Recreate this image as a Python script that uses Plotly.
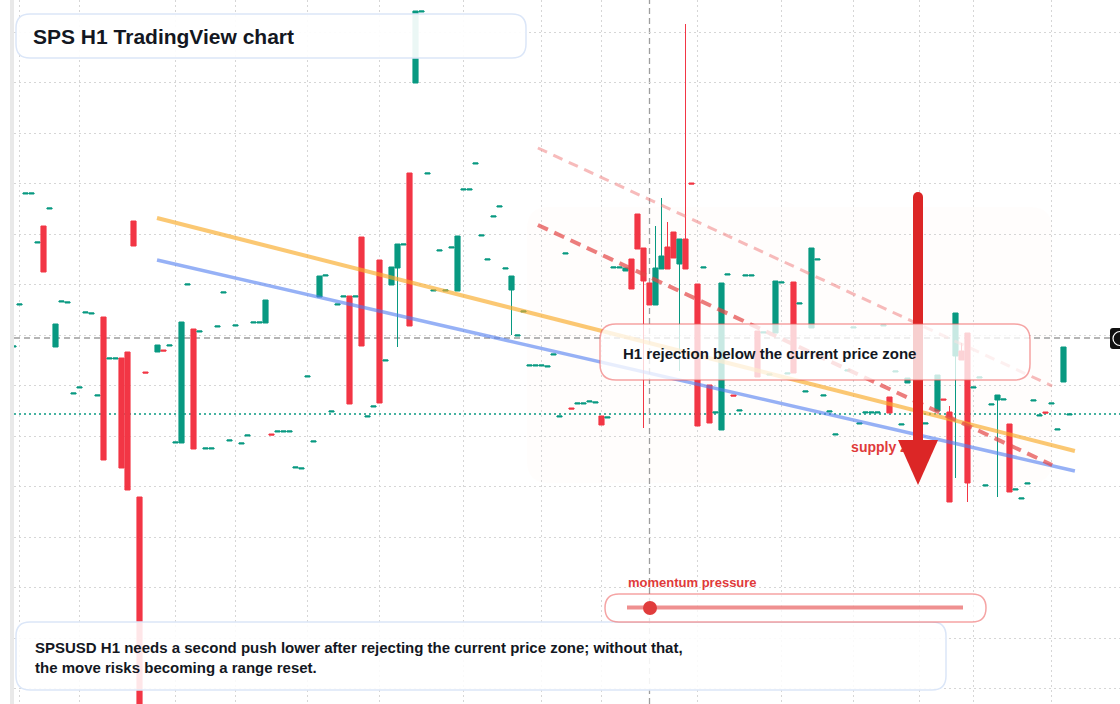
import plotly.graph_objects as go

# ---------------- data (H1 bars, price in USD) ----------------
bar_index = list(range(-1, 176))

open_ = [
    0.0857, 0.0899, 0.1010, 0.1010, 0.0961, 0.0978, 0.0995, 0.0857, 0.0902, 0.0901,
    0.0810, 0.0816, 0.0891, 0.0890, 0.0808, 0.0887, 0.0845, 0.0845, 0.0846, 0.0852,
    0.0983, 0.0707, 0.0832, None, 0.0852, 0.0854, 0.0858, 0.0761, 0.0761, 0.0919,
    0.0875, 0.0872, 0.0755, 0.0755, 0.0877, 0.0911, 0.0763, 0.0878, 0.0760, 0.0768,
    0.0881, 0.0881, 0.0881, 0.0770, 0.0772, 0.0772, 0.0772, 0.0736, 0.0735, 0.0827,
    0.0762, 0.0907, 0.0928, 0.0792, 0.0899, 0.0907, 0.0908, 0.0907, 0.0967, 0.0787,
    0.0797, 0.0944, 0.0843, 0.0919, 0.0936, 0.0959, 0.1031, 0.1121, 0.1192, 0.1030,
    0.0913, 0.0953, 0.0913, 0.0956, 0.0913, 0.1014, 0.1014, 0.1040, 0.0968, 0.0944,
    0.0987, 0.0997, 0.0935, 0.0914, 0.0868, 0.0892, 0.0838, 0.0838, 0.0838, 0.0837,
    0.0849, 0.0787, 0.0950, 0.0796, 0.0800, 0.0800, 0.0802, 0.0801, 0.0788, 0.0786,
    0.0936, 0.0936, 0.0933, 0.0945, 0.0990, 0.0956, 0.0921, 0.0899, 0.0935, 0.0957,
    0.0972, 0.0940, 0.0965, 0.1021, 0.0920, 0.0936, 0.0819, 0.0791, 0.0774, 0.0929,
    0.0809, 0.0793, 0.0928, 0.0928, 0.0873, 0.0871, 0.0829, 0.0871, 0.0921, 0.0830,
    0.0922, 0.0900, 0.0812, 0.0876, 0.0944, 0.0808, 0.0792, 0.0769, None, 0.0833,
    0.0876, 0.0780, 0.0791, 0.0791, 0.0791, 0.0878, 0.0807, 0.0832, 0.0779, 0.0821,
    None, None, 0.0780, None, 0.0793, 0.0805, 0.0792, 0.0848, 0.0853, 0.0871,
    0.0816, 0.0826, 0.0718, 0.0799, 0.0804, 0.0804, 0.0780, 0.0714, 0.0705, 0.0720,
    0.0803, 0.0788, 0.0792, 0.0800, 0.0774, 0.0822, 0.0789,
]

high = [
    0.0858, 0.0900, 0.1011, 0.1011, 0.0962, 0.0978, 0.0996, 0.0880, 0.0903, 0.0902,
    0.0811, 0.0817, 0.0892, 0.0891, 0.0809, 0.0887, 0.0846, 0.0846, 0.0846, 0.0852,
    0.0983, 0.0707, 0.0832, None, 0.0859, 0.0854, 0.0859, 0.0762, 0.0882, 0.0920,
    0.0875, 0.0873, 0.0756, 0.0756, 0.0878, 0.0912, 0.0764, 0.0879, 0.0761, 0.0769,
    0.0882, 0.0882, 0.0904, 0.0770, 0.0773, 0.0773, 0.0773, 0.0737, 0.0736, 0.0828,
    0.0763, 0.0928, 0.0929, 0.0793, 0.0900, 0.0908, 0.0908, 0.0908, 0.0967, 0.0788,
    0.0798, 0.0944, 0.0844, 0.0937, 0.0960, 0.0960, 0.1031, 0.1193, 0.1193, 0.1031,
    0.0914, 0.0954, 0.0914, 0.0957, 0.0968, 0.1015, 0.1015, 0.1041, 0.0969, 0.0945,
    0.0988, 0.0998, 0.0936, 0.0928, 0.0869, 0.0893, 0.0839, 0.0839, 0.0839, 0.0838,
    0.0850, 0.0788, 0.0951, 0.0796, 0.0801, 0.0801, 0.0803, 0.0802, 0.0788, 0.0787,
    0.0937, 0.0937, 0.0936, 0.0945, 0.0990, 0.0956, 0.0921, 0.0978, 0.1006, 0.0982,
    0.0972, 0.0965, 0.1180, 0.1021, 0.0920, 0.0937, 0.0819, 0.0792, 0.0921, 0.0930,
    0.0809, 0.0794, 0.0929, 0.0929, 0.0873, 0.0872, 0.0830, 0.0923, 0.0922, 0.0831,
    0.0922, 0.0901, 0.0813, 0.0956, 0.0945, 0.0809, 0.0793, 0.0770, None, 0.0834,
    0.0877, 0.0781, 0.0792, 0.0792, 0.0792, 0.0879, 0.0807, 0.0833, 0.0780, 0.0826,
    None, None, 0.0781, None, 0.0829, 0.0805, 0.0798, 0.0891, 0.0861, 0.0871,
    0.0817, 0.0827, 0.0719, 0.0800, 0.0809, 0.0805, 0.0780, 0.0715, 0.0706, 0.0721,
    0.0804, 0.0789, 0.0792, 0.0801, 0.0775, 0.0857, 0.0790,
]

low = [
    0.0857, 0.0899, 0.1010, 0.1010, 0.0961, 0.0932, 0.0995, 0.0857, 0.0902, 0.0901,
    0.0810, 0.0816, 0.0891, 0.0890, 0.0808, 0.0744, 0.0845, 0.0845, 0.0736, 0.0714,
    0.0958, 0.0484, 0.0831, None, 0.0852, 0.0853, 0.0858, 0.0761, 0.0761, 0.0919,
    0.0755, 0.0872, 0.0755, 0.0755, 0.0877, 0.0911, 0.0763, 0.0878, 0.0760, 0.0768,
    0.0881, 0.0881, 0.0881, 0.0769, 0.0772, 0.0772, 0.0772, 0.0736, 0.0735, 0.0827,
    0.0762, 0.0907, 0.0928, 0.0792, 0.0899, 0.0907, 0.0800, 0.0907, 0.0858, 0.0787,
    0.0797, 0.0801, 0.0843, 0.0919, 0.0857, 0.0959, 0.0878, 0.1121, 0.1192, 0.1030,
    0.0913, 0.0953, 0.0913, 0.0956, 0.0913, 0.1014, 0.1014, 0.1040, 0.0968, 0.0944,
    0.0987, 0.0997, 0.0935, 0.0869, 0.0868, 0.0892, 0.0838, 0.0838, 0.0838, 0.0837,
    0.0849, 0.0787, 0.0950, 0.0795, 0.0800, 0.0800, 0.0802, 0.0801, 0.0779, 0.0786,
    0.0936, 0.0936, 0.0933, 0.0915, 0.0955, 0.0776, 0.0899, 0.0899, 0.0935, 0.0935,
    0.0946, 0.0833, 0.0935, 0.1020, 0.0778, 0.0936, 0.0781, 0.0791, 0.0774, 0.0929,
    0.0808, 0.0793, 0.0928, 0.0928, 0.0827, 0.0871, 0.0829, 0.0871, 0.0921, 0.0830,
    0.0831, 0.0900, 0.0812, 0.0876, 0.0944, 0.0808, 0.0792, 0.0769, None, 0.0833,
    0.0876, 0.0780, 0.0791, 0.0791, 0.0791, 0.0878, 0.0791, 0.0832, 0.0779, 0.0821,
    None, None, 0.0780, None, 0.0793, 0.0804, 0.0702, 0.0726, 0.0844, 0.0702,
    0.0816, 0.0826, 0.0718, 0.0799, 0.0707, 0.0804, 0.0712, 0.0714, 0.0705, 0.0720,
    0.0803, 0.0788, 0.0791, 0.0800, 0.0774, 0.0822, 0.0789,
]

close = [
    0.0858, 0.0900, 0.1011, 0.1011, 0.0962, 0.0932, 0.0996, 0.0880, 0.0903, 0.0902,
    0.0811, 0.0817, 0.0892, 0.0891, 0.0809, 0.0744, 0.0846, 0.0846, 0.0736, 0.0714,
    0.0958, 0.0484, 0.0831, None, 0.0859, 0.0853, 0.0859, 0.0762, 0.0882, 0.0920,
    0.0755, 0.0873, 0.0756, 0.0756, 0.0878, 0.0912, 0.0764, 0.0879, 0.0761, 0.0769,
    0.0882, 0.0882, 0.0904, 0.0769, 0.0773, 0.0773, 0.0773, 0.0737, 0.0736, 0.0828,
    0.0763, 0.0928, 0.0929, 0.0793, 0.0900, 0.0908, 0.0800, 0.0908, 0.0858, 0.0788,
    0.0798, 0.0801, 0.0844, 0.0937, 0.0960, 0.0960, 0.0878, 0.1193, 0.1193, 0.1031,
    0.0914, 0.0954, 0.0914, 0.0957, 0.0968, 0.1015, 0.1015, 0.1041, 0.0969, 0.0945,
    0.0988, 0.0998, 0.0936, 0.0928, 0.0869, 0.0893, 0.0839, 0.0839, 0.0839, 0.0838,
    0.0850, 0.0788, 0.0951, 0.0795, 0.0801, 0.0801, 0.0803, 0.0802, 0.0779, 0.0787,
    0.0937, 0.0937, 0.0936, 0.0915, 0.0955, 0.0923, 0.0899, 0.0936, 0.0948, 0.0935,
    0.0946, 0.0965, 0.0935, 0.1020, 0.0778, 0.0937, 0.0781, 0.0792, 0.0921, 0.0930,
    0.0808, 0.0794, 0.0929, 0.0929, 0.0827, 0.0872, 0.0830, 0.0923, 0.0922, 0.0831,
    0.0831, 0.0901, 0.0813, 0.0956, 0.0945, 0.0809, 0.0793, 0.0770, None, 0.0834,
    0.0877, 0.0781, 0.0792, 0.0792, 0.0792, 0.0879, 0.0791, 0.0833, 0.0780, 0.0826,
    None, None, 0.0781, None, 0.0829, 0.0804, 0.0702, 0.0891, 0.0844, 0.0721,
    0.0817, 0.0827, 0.0719, 0.0800, 0.0809, 0.0805, 0.0712, 0.0715, 0.0706, 0.0721,
    0.0804, 0.0789, 0.0791, 0.0801, 0.0775, 0.0857, 0.0790,
]

# horizontal price levels
current_price = 0.0866
support_level = 0.0790
cursor_bar = 105

# trend lines (bar index, price)
trend_upper_x, trend_upper_y = [22.92, 175.9], [0.0986, 0.0753]
trend_lower_x, trend_lower_y = [22.92, 175.9], [0.0944, 0.0733]
channel_top_x, channel_top_y = [86.4, 172.1], [0.1056, 0.0818]
channel_mid_x, channel_mid_y = [86.4, 172.1], [0.0979, 0.0739]

grid_bars = [0, 10, 26, 36, 48, 60, 74, 87, 97, 113, 127, 139, 150, 159, 172]
grid_prices = [0.0566 + 0.00505 * k for k in range(-1, 13)]

title_text = "SPS H1 TradingView chart"
callout_text = "H1 rejection below the current price zone"
zone_text = "supply zone"
momentum_text = "momentum pressure"
summary_text = ("SPSUSD H1 needs a second push lower after rejecting the current price zone; without that,"
                "<br>the move risks becoming a range reset.")

# ---------------- layout helpers ----------------
W, H = 1120, 704
ML = 14
PW = W - ML
FONT = "Liberation Sans, Arial, sans-serif"
UP, DOWN = "#089981", "#f23645"


def px(x):
    return (x - ML) / PW


def py(y):
    return 1 - y / H


def rrect(x0, y0, x1, y1, r):
    X0, X1, Y0, Y1 = px(x0), px(x1), py(y0), py(y1)
    rx, ry = r / PW, r / H
    return (f"M{X0+rx},{Y0} L{X1-rx},{Y0} Q{X1},{Y0} {X1},{Y0-ry} L{X1},{Y1+ry} "
            f"Q{X1},{Y1} {X1-rx},{Y1} L{X0+rx},{Y1} Q{X0},{Y1} {X0},{Y1+ry} "
            f"L{X0},{Y0-ry} Q{X0},{Y0} {X0+rx},{Y0} Z")


rows = [(b, o, h, l, c) for b, o, h, l, c in zip(bar_index, open_, high, low, close) if o is not None]

fig = go.Figure()
fig.add_trace(go.Candlestick(
    x=[r[0] for r in rows], open=[r[1] for r in rows], high=[r[2] for r in rows],
    low=[r[3] for r in rows], close=[r[4] for r in rows],
    increasing=dict(line=dict(color=UP, width=1), fillcolor=UP),
    decreasing=dict(line=dict(color=DOWN, width=1), fillcolor=DOWN),
    whiskerwidth=0, hoverinfo="skip", showlegend=False,
))

fig.add_trace(go.Scatter(x=trend_upper_x, y=trend_upper_y, mode="lines",
                         line=dict(color="rgba(249,170,40,0.65)", width=4), hoverinfo="skip"))
fig.add_trace(go.Scatter(x=trend_lower_x, y=trend_lower_y, mode="lines",
                         line=dict(color="rgba(80,125,240,0.6)", width=3.5), hoverinfo="skip"))
fig.add_trace(go.Scatter(x=channel_top_x, y=channel_top_y, mode="lines",
                         line=dict(color="rgba(240,120,120,0.5)", width=3, dash="10px,7px"), hoverinfo="skip"))
fig.add_trace(go.Scatter(x=channel_mid_x, y=channel_mid_y, mode="lines",
                         line=dict(color="rgba(228,70,70,0.7)", width=4, dash="11px,7px"), hoverinfo="skip"))
fig.add_trace(go.Scatter(x=[138.6], y=[0.0756], mode="text", text=[f"<b>{zone_text}</b>"],
                         textposition="middle right",
                         textfont=dict(family=FONT, size=14, color="#e03a3a"), hoverinfo="skip"))

shapes = []
# supply zone background
shapes.append(dict(type="path", xref="paper", yref="paper", path=rrect(527, 207, 1052, 483, 22),
                   fillcolor="rgba(235,160,110,0.022)", line=dict(width=0), layer="below"))
# left strip
shapes.append(dict(type="rect", xref="paper", yref="paper", x0=px(10), x1=px(14), y0=0, y1=1,
                   fillcolor="#e9e9e9", line=dict(width=0), layer="below"))
# price lines
shapes.append(dict(type="line", xref="paper", yref="y", x0=0, x1=px(1110), y0=current_price, y1=current_price,
                   line=dict(color="#9e9e9e", width=1.5, dash="6px,4px"), layer="between"))
shapes.append(dict(type="line", xref="paper", yref="y", x0=0, x1=1, y0=support_level, y1=support_level,
                   line=dict(color=UP, width=1.5, dash="2px,3px"), layer="between"))
shapes.append(dict(type="line", xref="x", yref="paper", x0=cursor_bar, x1=cursor_bar, y0=0, y1=1,
                   line=dict(color="#9e9e9e", width=1.3, dash="6px,4px"), layer="between"))
# arrow
shapes.append(dict(type="line", xref="paper", yref="paper", x0=px(918), x1=px(918), y0=py(197), y1=py(442),
                   line=dict(color="#dc2626", width=10), layer="above"))
shapes.append(dict(type="circle", xref="paper", yref="paper", x0=px(913), x1=px(923), y0=py(192), y1=py(202),
                   fillcolor="#dc2626", line=dict(width=0), layer="above"))
shapes.append(dict(type="path", xref="paper", yref="paper",
                   path=f"M{px(898)},{py(440)} L{px(938)},{py(440)} L{px(918)},{py(485)} Z",
                   fillcolor="#dc2626", line=dict(width=0), layer="above"))
# boxes
shapes.append(dict(type="path", xref="paper", yref="paper", path=rrect(16, 14, 526, 58, 14),
                   fillcolor="rgba(255,255,255,0.92)", line=dict(color="#dbe6f8", width=1.5), layer="above"))
shapes.append(dict(type="path", xref="paper", yref="paper", path=rrect(600, 324, 1030, 380, 16),
                   fillcolor="rgba(255,255,255,0.78)", line=dict(color="rgba(236,90,90,0.55)", width=1.5),
                   layer="above"))
shapes.append(dict(type="path", xref="paper", yref="paper", path=rrect(16, 622, 946, 690, 14),
                   fillcolor="rgba(255,255,255,0.88)", line=dict(color="#dbe6f8", width=1.5), layer="above"))
shapes.append(dict(type="path", xref="paper", yref="paper", path=rrect(605, 594, 986, 622, 14),
                   fillcolor="rgba(255,255,255,0.75)", line=dict(color="rgba(236,90,90,0.55)", width=1.5),
                   layer="above"))
shapes.append(dict(type="line", xref="paper", yref="paper", x0=px(627), x1=px(963), y0=py(607.5), y1=py(607.5),
                   line=dict(color="rgba(229,70,70,0.6)", width=4), layer="above"))
shapes.append(dict(type="circle", xref="paper", yref="paper", x0=px(643), x1=px(657), y0=py(601), y1=py(615),
                   fillcolor="#e03c3c", line=dict(width=0), layer="above"))
# right price label
shapes.append(dict(type="path", xref="paper", yref="paper", path=rrect(1110, 328, 1130, 349, 3),
                   fillcolor="#111111", line=dict(width=0), layer="above"))
shapes.append(dict(type="circle", xref="paper", yref="paper", x0=px(1113), x1=px(1127), y0=py(331.5),
                   y1=py(345.5), line=dict(color="#ffffff", width=1.2), layer="above"))

annotations = [
    dict(xref="paper", yref="paper", x=px(31), y=py(36), xanchor="left", yanchor="middle", showarrow=False,
         text=f"<b>{title_text}</b>", font=dict(family=FONT, size=21, color="#131722")),
    dict(xref="paper", yref="paper", x=px(621), y=py(353), xanchor="left", yanchor="middle", showarrow=False,
         text=f"<b>{callout_text}</b>", font=dict(family=FONT, size=15, color="#131722")),
    dict(xref="paper", yref="paper", x=px(33), y=py(657), xanchor="left", yanchor="middle", showarrow=False,
         align="left", text=f"<b>{summary_text}</b>", font=dict(family=FONT, size=15, color="#131722")),
    dict(xref="paper", yref="paper", x=px(626), y=py(582), xanchor="left", yanchor="middle", showarrow=False,
         text=f"<b>{momentum_text}</b>", font=dict(family=FONT, size=13, color="#e03a3a")),
]

fig.update_layout(
    width=W, height=H, margin=dict(l=ML, r=0, t=0, b=0),
    paper_bgcolor="#ffffff", plot_bgcolor="#ffffff", showlegend=False,
    boxgap=0.1, boxgroupgap=0.05,
    shapes=shapes, annotations=annotations,
    xaxis=dict(range=[-0.9167, 183.4167], showticklabels=False, tickvals=grid_bars, showgrid=True,
               gridcolor="#d6d6d6", griddash="2px,3px", gridwidth=1, zeroline=False, showline=False,
               ticks="", rangeslider=dict(visible=False), fixedrange=True),
    yaxis=dict(range=[0.0500, 0.1204], showticklabels=False, tickvals=grid_prices, showgrid=True,
               gridcolor="#d6d6d6", griddash="2px,3px", gridwidth=1, zeroline=False, showline=False,
               ticks="", fixedrange=True),
)

fig.write_html("out.html")
